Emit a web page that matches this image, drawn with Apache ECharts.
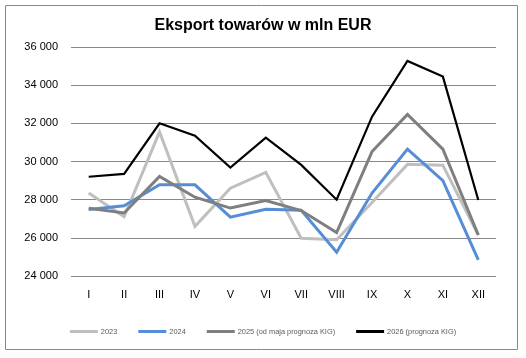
<!DOCTYPE html>
<html><head><meta charset="utf-8">
<script src="https://cdn.jsdelivr.net/npm/echarts@6/dist/echarts.min.js"></script>
<style>html,body{margin:0;padding:0;background:#fff}#c{width:526px;height:358px}</style>
</head><body><div id="c"></div>
<script>
const months = ['I','II','III','IV','V','VI','VII','VIII','IX','X','XI','XII'];
const s2023 = [28350, 27100, 31550, 26600, 28600, 29430, 25980, 25900, 27850, 29850, 29800, 26150];
const s2024 = [27480, 27680, 28780, 28780, 27080, 27500, 27450, 25250, 28350, 30650, 29000, 24850];
const s2025 = [27550, 27300, 29220, 28130, 27560, 27950, 27430, 26280, 30520, 32470, 30650, 26150];
const s2026 = [29200, 29350, 32000, 31350, 29680, 31250, 29820, 28000, 32350, 35270, 34450, 27980];
const names = ['2023','2024','2025 (od maja prognoza KIG)','2026 (prognoza KIG)'];
const yTicks = {min: 24000, max: 36000, step: 2000};

const chart = echarts.init(document.getElementById('c'));
const font = 'Liberation Sans';
function mk(name, data, color, width, z) {
  return {name, type: 'line', data, showSymbol: false, symbol: 'none', z,
    lineStyle: {color, width, join: 'miter'}, itemStyle: {color}};
}
chart.setOption({
  animation: false,
  title: {text: 'Eksport towarów w mln EUR', left: 'center', top: 13,
    textStyle: {fontFamily: font, fontSize: 16, fontWeight: 'bold', color: '#000'}},
  graphic: [{type: 'rect', shape: {x: 5.5, y: 5.5, width: 512, height: 344},
    style: {fill: 'none', stroke: '#888', lineWidth: 1}, silent: true}],
  grid: {left: 71, right: 30, top: 47, bottom: 82},
  legend: {top: 323, left: 'center', itemWidth: 28, itemHeight: 3, itemGap: 21, icon: 'rect',
    textStyle: {fontFamily: font, fontSize: 7.4, color: '#595959', padding: [0, 0, 0, -2]}, data: names},
  xAxis: {type: 'category', data: months, boundaryGap: true,
    axisLine: {show: false}, axisTick: {show: false},
    axisLabel: {fontFamily: font, fontSize: 11, color: '#000', margin: 13}},
  yAxis: {type: 'value', min: yTicks.min, max: yTicks.max, interval: yTicks.step,
    axisLine: {show: false}, axisTick: {show: false},
    splitLine: {lineStyle: {color: '#888', width: 1}},
    axisLabel: {fontFamily: font, fontSize: 11, color: '#000', margin: 13,
      formatter: v => String(v).replace(/\B(?=(\d{3})+(?!\d))/g, ' ')}},
  series: [
    mk(names[0], s2023, '#BFBFBF', 3, 2),
    mk(names[1], s2024, '#558ED5', 3, 3),
    mk(names[2], s2025, '#7F7F7F', 3, 4),
    mk(names[3], s2026, '#000000', 2.2, 5)
  ]
});
</script></body></html>
